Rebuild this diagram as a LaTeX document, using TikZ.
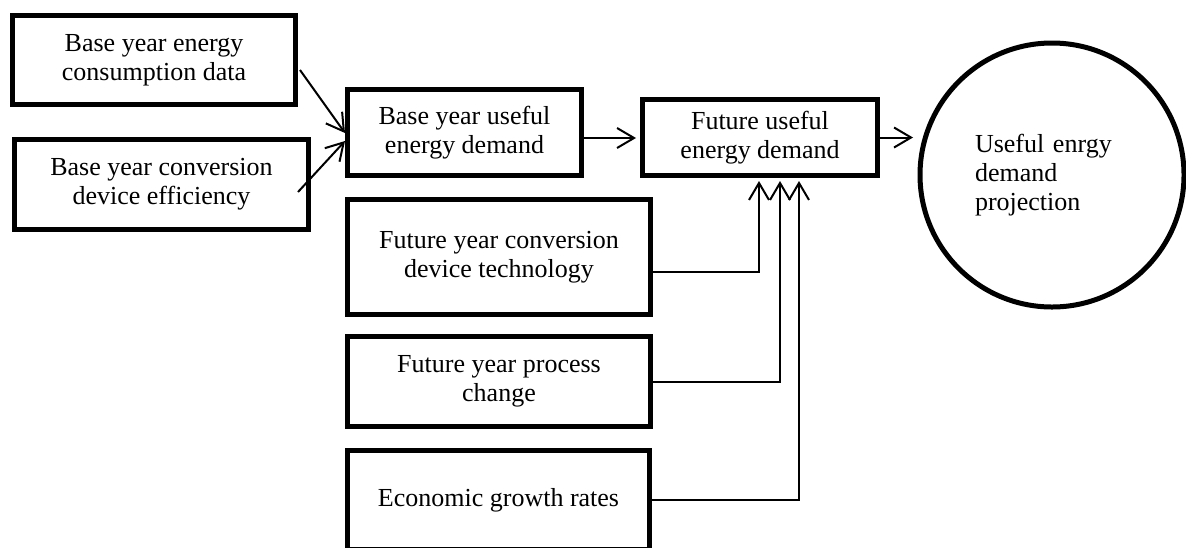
\documentclass[tikz,border=0pt]{standalone}
\usepackage{fontspec}
\setmainfont{Liberation Serif}
\usetikzlibrary{arrows.meta}

\begin{document}
\begin{tikzpicture}[x=0.5pt, y=-0.5pt,
  font=\fontsize{13}{14.5}\selectfont,
  box/.style={draw, line width=2.5pt, align=center, inner sep=0pt},
  arr/.style={line width=1pt, -{Straight Barb[length=8.5pt,width=10pt]}}]
\useasboundingbox (0,0) rectangle (1186,547);
\clip (0,0) rectangle (1186,547);
\node[box, minimum width=141.5pt, minimum height=44.5pt] (b1) at (154,60) {Base year energy\\consumption data};
\node[box, minimum width=147pt, minimum height=45pt] (b2) at (161.5,184.5) {Base year conversion\\device efficiency};
\node[box, minimum width=117pt, minimum height=43pt] (b3) at (464.5,132.5) {Base year useful\\energy demand};
\node[box, minimum width=117.5pt, minimum height=38pt] (b4) at (760,137.5) {Future useful\\energy demand};
\node[box, minimum width=151.5pt, minimum height=57.5pt] (b5) at (499,257) {Future year conversion\\device technology};
\node[box, minimum width=151.5pt, minimum height=45pt] (b6) at (499,381.5) {Future year process\\change};
\node[box, minimum width=151pt, minimum height=49.5pt] (b7) at (498.5,500) {Economic growth rates};
\node[draw, circle, line width=2.5pt, minimum size=132pt, inner sep=0pt,
  text width=77pt, align=left] (proj) at (1052,175) {Useful enrgy\\demand\\projection};

\draw[arr] ([xshift=1pt,yshift=-5pt]b1.east) -- ([yshift=-0.25pt]b3.west);
\draw[arr] ([xshift=-6.5pt,yshift=-3.75pt]b2.east) -- ([yshift=-4.25pt]b3.west);
\draw[arr] ([yshift=-2.75pt]b3.east) -- ([xshift=-2pt,yshift=-0.25pt]b4.west);
\draw[arr, shorten >=2.25pt] (b4.east) -- (proj.west |- b4.east);
\foreach \src/\dx/\dy in {b5/-0.5/-7.5, b6/10/0, b7/19.5/0}
  \draw[arr, shorten >=1.5pt] ([yshift=\dy pt]\src.east) -| ([xshift=\dx pt]b4.south);
\end{tikzpicture}
\end{document}
